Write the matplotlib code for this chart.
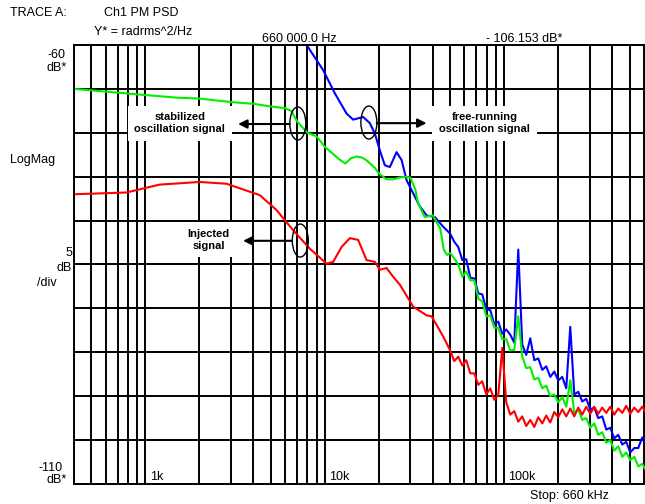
import matplotlib
matplotlib.use('Agg')
import matplotlib.pyplot as plt
from matplotlib.patches import Ellipse
from matplotlib.transforms import ScaledTranslation
import numpy as np

plt.rcParams['font.family'] = ['Liberation Sans', 'DejaVu Sans']

# shared high-frequency grid (kHz), noisy part of the traces
f_hi_khz = [50.0, 52.6, 55.4, 58.4, 61.4, 64.7, 68.1, 71.7, 75.4, 79.4,
            83.6, 88.0, 92.6, 97.5, 102.6, 108.0, 113.7, 119.7, 126.0, 132.6,
            139.6, 147.0, 154.7, 162.9, 171.4, 180.5, 190.0, 200.0, 210.5, 221.6,
            233.3, 245.6, 258.5, 272.1, 286.5, 301.6, 317.4, 334.1, 351.7, 370.3,
            389.8, 410.3, 431.9, 454.7, 478.6, 503.8, 530.4, 558.3, 587.7, 618.7,
            651.3]

# green: stabilized oscillation
green_f_lo = [400, 1000, 1500, 2000, 3000, 4000, 5000, 6000, 6500, 7000,
              8000, 9000, 10000, 12000, 13000, 14000, 15000, 16000, 17000, 19000,
              20000, 22000, 24000, 26000, 28000, 30000, 32000, 33000, 34000, 36000,
              38000, 40000, 42000, 44000, 46000, 48000]
green_db_lo = [-65.0, -65.7, -66.0, -66.1, -66.5, -66.7, -67.0, -67.2, -67.5, -68.7,
               -70.0, -70.4, -71.6, -73.0, -73.5, -72.9, -72.7, -72.8, -73.1, -74.0,
               -74.6, -75.3, -75.3, -75.1, -75.0, -75.1, -76.5, -78.0, -78.5, -79.6,
               -79.5, -79.4, -80.2, -80.9, -83.3, -83.9]
green_db_hi = [-83.7, -84.3, -85.0, -86.4, -85.8, -86.8, -86.8, -88.9, -89.2, -90.9,
               -90.8, -92.2, -92.2, -93.5, -93.5, -94.8, -94.7, -90.9, -95.5, -96.8,
               -96.7, -98.1, -97.9, -99.1, -98.8, -100.0, -99.8, -100.7, -100.1, -101.2,
               -98.2, -101.9, -101.5, -102.7, -102.5, -103.6, -103.1, -104.4, -104.1, -105.3,
               -105.0, -106.2, -105.7, -106.9, -106.4, -107.3, -106.9, -108.0, -107.7, -108.5,
               -108.0]

# blue: free-running oscillation
blue_f_lo = [7800, 9780, 11370, 13210, 14380, 16360, 17820, 19010, 20260, 21600,
             23040, 25110, 26780, 28560, 31090, 33880, 36910, 41080, 45680]
blue_db_lo = [-59.8, -62.85, -65.5, -67.8, -68.5, -68.2, -68.9, -70.1, -72.0, -73.7,
              -73.9, -72.2, -73.1, -75.4, -76.9, -78.4, -79.4, -79.6, -80.7]
blue_db_hi = [-81.5, -82.4, -83.0, -84.5, -84.4, -86.5, -86.6, -88.3, -88.4, -90.1,
              -90.2, -91.8, -91.5, -92.9, -92.4, -93.0, -93.9, -83.3, -94.1, -95.3,
              -93.4, -95.9, -95.7, -97.0, -96.6, -97.8, -97.2, -98.2, -97.8, -99.1,
              -92.1, -99.8, -99.5, -100.6, -100.3, -101.5, -101.3, -102.5, -102.3, -103.8,
              -103.6, -104.8, -104.4, -105.5, -105.2, -106.4, -105.9, -105.9, -104.7, -104.9,
              -104.2]

# red: injected signal
red_f_lo = [400, 783, 1200, 2000, 2830, 4340, 5380, 6660, 8250, 10220,
            11130, 12400, 13790, 15340, 17080, 19010, 20260, 22090, 24040, 26200,
            31090, 36910, 39370, 45680]
red_db_lo = [-77.0, -76.8, -75.9, -75.6, -75.8, -77.1, -78.8, -81.1, -83.2, -84.9,
             -84.7, -83.0, -82.0, -82.2, -84.5, -84.7, -85.6, -85.4, -86.4, -87.3,
             -89.8, -90.8, -90.9, -93.2]
red_db_hi = [-94.8, -96.0, -95.5, -96.5, -95.9, -97.4, -97.4, -98.7, -98.3, -99.8,
             -99.1, -100.4, -99.9, -94.5, -100.7, -102.1, -101.7, -102.9, -102.3, -103.4,
             -102.7, -103.5, -102.4, -103.1, -102.2, -103.0, -101.8, -102.4, -101.5, -102.3,
             -101.4, -102.3, -101.3, -102.1, -101.2, -102.0, -101.2, -102.0, -101.3, -101.9,
             -101.2, -102.1, -101.4, -101.9, -101.1, -102.0, -101.3, -101.8, -101.2, -101.9,
             -101.4]

W, H = 645, 504
fig = plt.figure(figsize=(W / 100, H / 100), dpi=100)
ax = fig.add_axes([74 / W, 20 / H, 577.3 / W, 439 / H])

f_hi = np.array(f_hi_khz) * 1000
ax.plot(np.concatenate([blue_f_lo, f_hi]), np.concatenate([blue_db_lo, blue_db_hi]),
        color='#0000ff', lw=1.5, zorder=2)
ax.plot(np.concatenate([green_f_lo, f_hi]), np.concatenate([green_db_lo, green_db_hi]),
        color='#00ee00', lw=1.5, zorder=2)
ax.plot(np.concatenate([red_f_lo, f_hi]), np.concatenate([red_db_lo, red_db_hi]),
        color='#ff0000', lw=1.5, zorder=2)

ax.set_xscale('log')
ax.set_xlim(400, 660000)
ax.set_ylim(-110, -60)
ax.set_yticks(np.arange(-110, -59, 5))
ax.set_axisbelow(True)
ax.grid(which='both', color='black', lw=1.4)
ax.tick_params(which='both', length=0, labelbottom=False, labelleft=False)
for s in ax.spines.values():
    s.set_linewidth(1.4)
    s.set_color('black')

# frequency labels inside the bottom edge
for f, lab in [(1000, '1k'), (10000, '10k'), (100000, '100k')]:
    ax.annotate(lab, xy=(f, -110), xytext=(3, 1), textcoords='offset points',
                ha='left', va='bottom', fontsize=9)

# annotations
box = dict(boxstyle='square,pad=0.6', fc='white', ec='none')
ax.text(1554, -68.9, 'stabilized\noscillation signal', ha='center', va='center',
        fontsize=8, fontweight='bold', bbox=box, zorder=3)
ax.text(77600, -68.9, 'free-running\noscillation signal', ha='center', va='center',
        fontsize=8, fontweight='bold', bbox=box, zorder=3)
ax.text(2254, -82.2, 'Injected\nsignal', ha='center', va='center',
        fontsize=8, fontweight='bold', bbox=box, zorder=3)

arrow = dict(arrowstyle='-|>', color='black', lw=1.5, mutation_scale=13,
             shrinkA=0, shrinkB=0)
ax.annotate('', xy=(3285, -69.0), xytext=(6380, -69.0), arrowprops=arrow, zorder=4)
ax.annotate('', xy=(36900, -68.9), xytext=(19480, -68.9), arrowprops=arrow, zorder=4)
ax.annotate('', xy=(3502, -82.3), xytext=(6550, -82.3), arrowprops=arrow, zorder=4)

for f, db in [(7070, -68.94), (17600, -68.83), (7300, -82.27)]:
    e = Ellipse((0, 0), 0.16, 0.33, fc='none', ec='black', lw=1.0, zorder=5,
                transform=fig.dpi_scale_trans + ScaledTranslation(f, db, ax.transData))
    ax.add_artist(e)


def ftext(x, y, s, **kw):
    fig.text(x / W, 1 - y / H, s, va='center', fontsize=9, **kw)


ftext(10, 13, 'TRACE A:')
ftext(104, 13, 'Ch1 PM PSD')
ftext(94, 32, 'Y* = radrms^2/Hz')
ftext(262, 39, '660 000.0 Hz')
ftext(486, 39, '- 106.153 dB*')
ftext(66, 55, '-60', ha='right')
ftext(67, 68, 'dB*', ha='right')
ftext(10, 160, 'LogMag')
ftext(72, 253, '5', ha='right')
ftext(72, 268, 'dB', ha='right')
ftext(57, 283, '/div', ha='right')
ftext(63, 468, '-110', ha='right')
ftext(67, 480, 'dB*', ha='right')
ftext(530, 496, 'Stop: 660 kHz')

fig.savefig('out.png', dpi=100)
